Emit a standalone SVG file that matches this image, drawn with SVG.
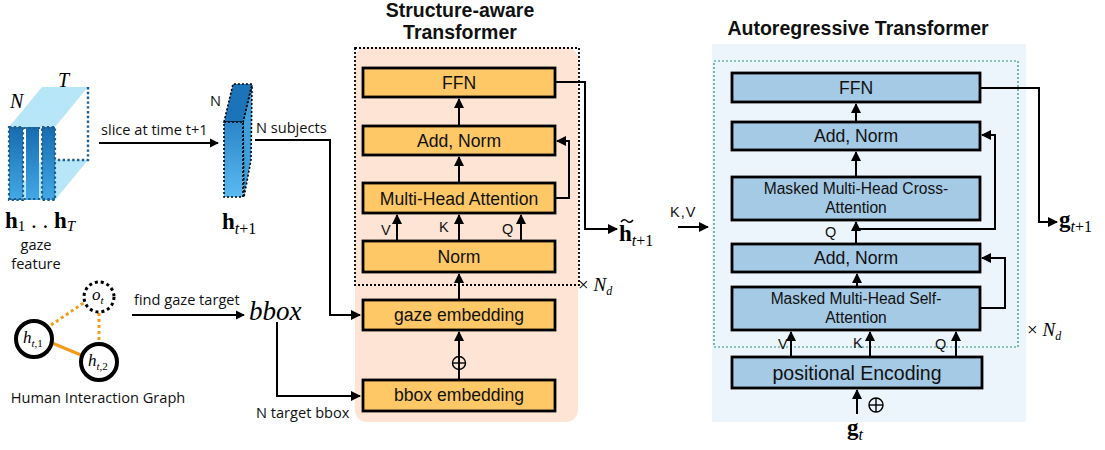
<svg xmlns="http://www.w3.org/2000/svg" width="1105" height="450" viewBox="0 0 1105 450">
  <defs>
    <marker id="arr" viewBox="0 0 10 10" refX="9" refY="5" markerWidth="4.2" markerHeight="4.2" orient="auto" markerUnits="strokeWidth">
      <path d="M0,0 L10,5 L0,10 Z" fill="#000"/>
    </marker>
    <marker id="arrs" viewBox="0 0 10 10" refX="9" refY="5" markerWidth="5" markerHeight="5" orient="auto" markerUnits="strokeWidth">
      <path d="M0,0 L10,5 L0,10 Z" fill="#000"/>
    </marker>
    <linearGradient id="bar" x1="0" y1="0" x2="0" y2="1">
      <stop offset="0" stop-color="#176bb0"/>
      <stop offset="1" stop-color="#44a9e6"/>
    </linearGradient>
    <linearGradient id="slice" x1="0" y1="0" x2="0" y2="1">
      <stop offset="0" stop-color="#2a86c8"/>
      <stop offset="1" stop-color="#5bbaf2"/>
    </linearGradient>
    <style>
      .sans { font-family: "Liberation Sans", Arial, sans-serif; }
      .cal { font-family: "Open Sans", "Liberation Sans", sans-serif; font-size: 14.6px; fill: #111; }
      .serif { font-family: "Liberation Serif", "Times New Roman", serif; }
      .ob { fill: #fec866; stroke: #000; stroke-width: 2.8; }
      .bb { fill: #a5cae5; stroke: #000; stroke-width: 2.8; }
      .bt { font-family: "Liberation Sans", Arial, sans-serif; font-size: 17.6px; text-anchor: middle; fill: #111; }
      .st { font-family: "Liberation Sans", Arial, sans-serif; font-size: 15.6px; text-anchor: middle; fill: #111; }
      .lbl { font-family: "Liberation Sans", Arial, sans-serif; font-size: 14.5px; fill: #111; }
      .ln { fill: none; stroke: #000; stroke-width: 2; }
      .ln3 { fill: none; stroke: #000; stroke-width: 2.2; }
      .title { font-family: "Liberation Sans", Arial, sans-serif; font-size: 19.5px; font-weight: bold; text-anchor: middle; fill: #111; }
    </style>
  </defs>
  <rect width="1105" height="450" fill="#fff"/>

  <!-- gaze feature tensor -->
  <g id="gaze-feature">
    <polygon points="9,127 42,87 88,87 55,127" fill="#b6e6f8"/>
    <polygon points="9,200 42,160 88,160 55,200" fill="#b6e6f8"/>
    <polyline points="88,87 88,160 55,160" fill="none" stroke="#1f5f8f" stroke-width="2.4" stroke-dasharray="2.4,2.4"/>
    <rect x="9" y="127" width="14" height="73" fill="url(#bar)" stroke="#1f5f8f" stroke-width="2.2" stroke-dasharray="2.4,2.4"/>
    <rect x="26" y="127" width="13" height="73" fill="url(#bar)"/>
    <rect x="42" y="127" width="13" height="73" fill="url(#bar)" stroke="#1f5f8f" stroke-width="2.2" stroke-dasharray="2.4,2.4"/>
    <line x1="9" y1="128" x2="55" y2="128" stroke="#1f5f8f" stroke-width="2.2" stroke-dasharray="2.4,2.4"/>
    <line x1="9" y1="199" x2="55" y2="199" stroke="#1f5f8f" stroke-width="2.2" stroke-dasharray="2.4,2.4"/>
    <text class="serif" x="10" y="108" font-size="20" font-style="italic">N</text>
    <text class="serif" x="58" y="87" font-size="20" font-style="italic">T</text>
    <text class="serif" x="5" y="228" font-size="23" font-weight="bold">h<tspan font-size="15" font-weight="normal" dy="3">1</tspan><tspan dy="-3" font-weight="normal"> . . </tspan>h<tspan font-size="15" font-weight="normal" font-style="italic" dy="3">T</tspan></text>
    <text class="cal" x="36" y="250" text-anchor="middle">gaze</text>
    <text class="cal" x="36" y="269" text-anchor="middle">feature</text>
  </g>

  <!-- slice at time t+1 -->
  <g id="slice-node">
    <polygon points="243,122 252,85 251,160 244,197" fill="#3d9fdc" stroke="#000" stroke-width="1.6" stroke-dasharray="2,2"/>
    <polygon points="224,122 233,84 252,84 243,122" fill="#1b74ba" stroke="#000" stroke-width="1.6" stroke-dasharray="2,2"/>
    <rect x="224" y="122" width="19" height="75" fill="url(#slice)" stroke="#000" stroke-width="1.6" stroke-dasharray="2,2"/>
    <text class="cal" x="210" y="106">N</text>
    <text class="serif" x="222" y="229" font-size="23" font-weight="bold">h<tspan font-size="16" font-weight="normal" font-style="italic" dy="5">t</tspan><tspan font-size="16" font-weight="normal">+1</tspan></text>
  </g>

  <!-- human interaction graph -->
  <g id="interaction-graph">
    <line x1="51" y1="325" x2="85" y2="302" stroke="#f59b1a" stroke-width="3" stroke-dasharray="3,3"/>
    <line x1="99" y1="313" x2="99" y2="343" stroke="#f59b1a" stroke-width="3" stroke-dasharray="3,3"/>
    <line x1="52" y1="343" x2="81" y2="355" stroke="#f59b1a" stroke-width="3"/>
    <circle cx="99" cy="297" r="15" fill="#fff" stroke="#000" stroke-width="3" stroke-dasharray="3,3"/>
    <circle cx="34" cy="339" r="18" fill="#fff" stroke="#000" stroke-width="4"/>
    <circle cx="99" cy="362" r="18" fill="#fff" stroke="#000" stroke-width="4"/>
    <text class="serif" x="92" y="300" font-size="17" font-style="italic">o<tspan font-size="11" dy="4">t</tspan></text>
    <text class="serif" x="23" y="343" font-size="17" font-style="italic">h<tspan font-size="11" dy="4">t,</tspan><tspan font-style="normal" font-size="11">1</tspan></text>
    <text class="serif" x="88" y="366" font-size="17" font-style="italic">h<tspan font-size="11" dy="4">t,</tspan><tspan font-style="normal" font-size="11">2</tspan></text>
    <text class="cal" x="98" y="403" text-anchor="middle">Human Interaction Graph</text>
  </g>

  <!-- bbox -->
  <g id="bbox-node">
    <text class="serif" x="249" y="320" font-size="27" font-style="italic">bbox</text>
  </g>

  <!-- Structure-aware Transformer -->
  <g id="structure-aware-transformer">
    <rect x="355" y="47" width="223" height="375" rx="12" fill="#fde4d5"/>
    <rect x="355" y="48" width="224" height="237" fill="none" stroke="#000" stroke-width="1.8" stroke-dasharray="2,2"/>
    <text class="title" x="460" y="17">Structure-aware</text>
    <text class="title" x="460" y="39">Transformer</text>
    <text class="serif" x="578" y="291" font-size="19">×<tspan font-style="italic"> N</tspan><tspan font-style="italic" font-size="12" dy="4">d</tspan></text>
  </g>
  <g id="sa-ffn"><rect class="ob" x="363" y="68" width="192" height="29"/><text class="bt" x="459" y="89">FFN</text></g>
  <g id="sa-addnorm"><rect class="ob" x="363" y="126" width="192" height="29"/><text class="bt" x="459" y="147">Add, Norm</text></g>
  <g id="sa-mha"><rect class="ob" x="363" y="183" width="192" height="30"/><text class="bt" x="459" y="205">Multi-Head Attention</text></g>
  <g id="sa-norm"><rect class="ob" x="363" y="241" width="192" height="31"/><text class="bt" x="459" y="263">Norm</text></g>
  <g id="sa-gaze-emb"><rect class="ob" x="363" y="300" width="192" height="30"/><text class="bt" x="459" y="321">gaze embedding</text></g>
  <g id="sa-bbox-emb"><rect class="ob" x="363" y="380" width="192" height="31"/><text class="bt" x="459" y="401">bbox embedding</text></g>

  <!-- Autoregressive Transformer -->
  <g id="autoregressive-transformer">
    <rect x="712" y="44" width="314" height="378" fill="#ebf5fb"/>
    <rect x="714" y="61" width="304" height="286" fill="none" stroke="#2a8f8a" stroke-width="1.2" stroke-dasharray="2,2"/>
    <text class="title" x="858" y="35">Autoregressive Transformer</text>
    <text class="serif" x="1027" y="336" font-size="19">×<tspan font-style="italic"> N</tspan><tspan font-style="italic" font-size="12" dy="4">d</tspan></text>
  </g>
  <g id="ar-ffn"><rect class="bb" x="732" y="73" width="248" height="29"/><text class="bt" x="856" y="94">FFN</text></g>
  <g id="ar-addnorm1"><rect class="bb" x="732" y="122" width="248" height="28"/><text class="bt" x="856" y="142">Add, Norm</text></g>
  <g id="ar-cross"><rect class="bb" x="732" y="177" width="248" height="43"/><text class="st" x="856" y="194">Masked Multi-Head Cross-</text><text class="st" x="856" y="213">Attention</text></g>
  <g id="ar-addnorm2"><rect class="bb" x="732" y="244" width="248" height="28"/><text class="bt" x="856" y="264">Add, Norm</text></g>
  <g id="ar-self"><rect class="bb" x="732" y="287" width="248" height="43"/><text class="st" x="856" y="304">Masked Multi-Head Self-</text><text class="st" x="856" y="323">Attention</text></g>
  <g id="ar-posenc"><rect class="bb" x="732" y="357" width="250" height="31"/><text class="sans" x="857" y="380" font-size="19.5" text-anchor="middle" fill="#111">positional Encoding</text></g>

  <!-- outputs / inputs -->
  <g id="h-tilde">
    <text class="serif" x="619" y="241" font-size="23" font-weight="bold">h<tspan font-size="16" font-weight="normal" font-style="italic" dy="5">t</tspan><tspan font-size="16" font-weight="normal">+1</tspan></text>
    <path d="M621,222 q3,-4 6,-1 t6,-1" fill="none" stroke="#000" stroke-width="1.6"/>
  </g>
  <g id="g-out">
    <text class="serif" x="1059" y="227" font-size="23" font-weight="bold">g<tspan font-size="16" font-weight="normal" font-style="italic" dy="5">t</tspan><tspan font-size="16" font-weight="normal">+1</tspan></text>
  </g>
  <g id="g-in">
    <text class="serif" x="847" y="435" font-size="23" font-weight="bold">g<tspan font-size="16" font-weight="normal" font-style="italic" dy="5">t</tspan></text>
  </g>

  <!-- connectors -->
  <g id="connectors">
    <!-- left side -->
    <line class="ln3" x1="99" y1="143" x2="218" y2="143" marker-end="url(#arr)"/>
    <text class="cal" x="101" y="135">slice at time t+1</text>
    <text class="cal" x="256" y="133">N subjects</text>
    <polyline class="ln" points="255,140 330,140 330,315 360,315" marker-end="url(#arrs)"/>
    <line class="ln3" x1="132" y1="315" x2="244" y2="315" marker-end="url(#arr)"/>
    <text class="cal" x="134" y="305">find gaze target</text>
    <polyline class="ln" points="277,322 277,396 360,396" marker-end="url(#arrs)"/>
    <text class="cal" x="256" y="418">N target bbox</text>

    <!-- structure-aware internals -->
    <line class="ln" x1="459" y1="126" x2="459" y2="99" marker-end="url(#arrs)"/>
    <line class="ln" x1="459" y1="183" x2="459" y2="157" marker-end="url(#arrs)"/>
    <polyline class="ln" points="555,198 569,198 569,141 557,141" marker-end="url(#arrs)"/>
    <line class="ln" x1="397" y1="241" x2="397" y2="215" marker-end="url(#arrs)"/>
    <line class="ln" x1="459" y1="241" x2="459" y2="215" marker-end="url(#arrs)"/>
    <line class="ln" x1="521" y1="241" x2="521" y2="215" marker-end="url(#arrs)"/>
    <text class="lbl" x="381" y="235">V</text>
    <text class="lbl" x="439" y="232">K</text>
    <text class="lbl" x="502" y="234">Q</text>
    <line class="ln" x1="459" y1="300" x2="459" y2="274" marker-end="url(#arrs)"/>
    <line class="ln" x1="459" y1="380" x2="459" y2="332" marker-end="url(#arrs)"/>
    <circle cx="459" cy="363" r="6.5" fill="none" stroke="#000" stroke-width="1.4"/>
    <line x1="452.5" y1="363" x2="465.5" y2="363" stroke="#000" stroke-width="1.4"/>
    <polyline class="ln" points="555,82 585,82 585,229 617,229" marker-end="url(#arrs)"/>

    <!-- K,V into decoder -->
    <line class="ln" x1="678" y1="227" x2="708" y2="227" marker-end="url(#arrs)"/>
    <text class="lbl" x="670" y="217" font-size="15" letter-spacing="1">K,V</text>

    <!-- autoregressive internals -->
    <line class="ln" x1="856" y1="122" x2="856" y2="104" marker-end="url(#arrs)"/>
    <line class="ln" x1="856" y1="177" x2="856" y2="152" marker-end="url(#arrs)"/>
    <line class="ln" x1="856" y1="244" x2="856" y2="222" marker-end="url(#arrs)"/>
    <polyline class="ln" points="857,229 995,229 995,135 982,135" marker-end="url(#arrs)"/>
    <text class="lbl" x="825" y="237">Q</text>
    <line class="ln" x1="857" y1="287" x2="857" y2="274" marker-end="url(#arrs)"/>
    <polyline class="ln" points="980,308 1005,308 1005,258 982,258" marker-end="url(#arrs)"/>
    <line class="ln" x1="791" y1="357" x2="791" y2="332" marker-end="url(#arrs)"/>
    <line class="ln" x1="870" y1="357" x2="870" y2="332" marker-end="url(#arrs)"/>
    <line class="ln" x1="956" y1="357" x2="956" y2="332" marker-end="url(#arrs)"/>
    <text class="lbl" x="778" y="349">V</text>
    <text class="lbl" x="853" y="348">K</text>
    <text class="lbl" x="935" y="349">Q</text>
    <line class="ln" x1="857" y1="414" x2="857" y2="390" marker-end="url(#arrs)"/>
    <circle cx="876" cy="405" r="7" fill="none" stroke="#000" stroke-width="1.4"/>
    <line x1="869" y1="405" x2="883" y2="405" stroke="#000" stroke-width="1.4"/>
    <line x1="876" y1="398" x2="876" y2="412" stroke="#000" stroke-width="1.4"/>
    <polyline class="ln" points="980,88 1039,88 1039,222 1057,222" marker-end="url(#arrs)"/>
  </g>
</svg>
